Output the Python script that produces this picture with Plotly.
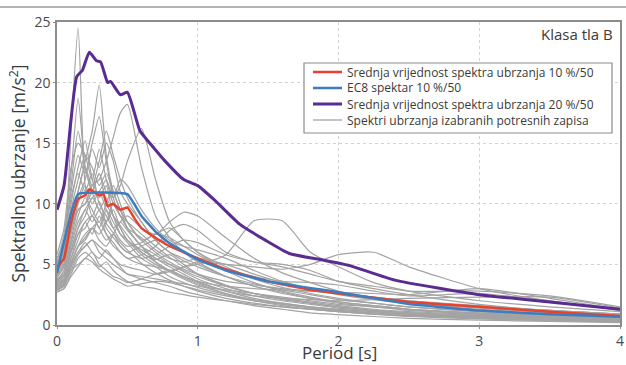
import plotly.graph_objects as go

periods = [0, 0.05, 0.1, 0.15, 0.2, 0.25, 0.3, 0.35, 0.4, 0.45, 0.5, 0.6, 0.7, 0.8, 0.9,
           1.0, 1.2, 1.4, 1.6, 1.8, 2.0, 2.25, 2.5, 3.0, 3.5, 4.0]

records = [
    [4.6, 6.2, 16.0, 24.5, 11.5, 9.0, 10.2, 8.4, 7.6, 6.8, 6.2, 5.1, 4.3, 3.7, 3.2, 2.8, 2.2, 1.8, 1.5, 1.3, 1.1, 0.9, 0.8, 0.6, 0.45, 0.35],
    [5.2, 7.5, 12.5, 18.7, 13.0, 11.0, 12.5, 10.0, 9.0, 8.2, 7.4, 6.0, 5.4, 5.8, 5.0, 4.2, 3.3, 2.6, 2.1, 1.8, 1.5, 1.2, 1.0, 0.8, 0.6, 0.45],
    [4.0, 5.0, 8.0, 11.0, 13.5, 16.0, 19.8, 14.0, 11.0, 9.5, 8.0, 6.5, 5.8, 5.0, 4.4, 3.8, 3.0, 2.4, 2.0, 1.7, 1.4, 1.2, 1.0, 0.75, 0.55, 0.4],
    [3.6, 4.5, 7.0, 9.5, 10.0, 11.5, 12.0, 13.5, 15.5, 17.5, 18.2, 13.0, 9.0, 7.2, 6.0, 5.2, 4.0, 3.2, 2.7, 2.2, 1.9, 1.6, 1.3, 0.95, 0.7, 0.5],
    [3.8, 4.2, 6.5, 8.5, 9.5, 10.5, 11.0, 12.0, 10.5, 11.5, 13.5, 16.2, 12.0, 8.5, 7.0, 6.0, 4.8, 3.8, 3.1, 2.6, 2.2, 1.8, 1.5, 1.1, 0.8, 0.6],
    [5.5, 7.0, 11.0, 14.0, 12.5, 15.0, 17.2, 13.5, 10.5, 9.0, 8.5, 7.5, 6.5, 5.6, 4.8, 4.2, 3.2, 2.6, 2.2, 1.9, 1.6, 1.3, 1.1, 0.85, 0.6, 0.45],
    [4.2, 5.8, 10.0, 13.0, 15.2, 12.0, 10.5, 11.5, 9.0, 8.0, 7.0, 6.2, 5.5, 4.8, 4.2, 3.6, 2.8, 2.2, 1.8, 1.5, 1.3, 1.1, 0.9, 0.7, 0.5, 0.4],
    [3.0, 3.4, 5.0, 6.5, 7.5, 8.0, 7.0, 6.5, 7.5, 8.5, 9.0, 8.0, 7.5, 8.5, 9.3, 9.0, 7.2, 5.5, 4.3, 3.5, 2.8, 2.2, 1.8, 1.3, 0.95, 0.7],
    [2.8, 3.0, 4.2, 5.5, 6.0, 5.5, 4.8, 5.2, 4.5, 4.0, 3.6, 3.2, 3.0, 2.7, 2.5, 2.3, 2.0, 1.7, 1.5, 1.3, 1.1, 0.9, 0.75, 0.55, 0.4, 0.3],
    [3.2, 3.6, 5.5, 7.0, 8.5, 7.5, 9.0, 7.5, 6.5, 6.0, 5.5, 5.8, 6.5, 7.8, 8.3, 7.8, 6.0, 5.2, 5.0, 4.5, 3.6, 3.0, 2.5, 1.7, 1.2, 0.9],
    [4.8, 6.0, 9.5, 12.0, 14.0, 13.0, 11.5, 12.5, 11.0, 9.5, 8.5, 7.0, 6.0, 5.2, 4.6, 4.2, 3.6, 3.3, 3.0, 2.8, 2.6, 2.3, 2.0, 1.5, 1.1, 0.8],
    [3.5, 4.0, 6.0, 8.0, 9.0, 10.5, 9.5, 8.5, 9.5, 8.0, 7.0, 5.8, 5.0, 4.5, 4.8, 5.0, 5.8, 8.6, 8.6, 6.0, 4.8, 3.5, 2.8, 2.0, 1.5, 1.1],
    [3.0, 3.3, 4.8, 6.0, 6.5, 7.0, 6.5, 6.0, 5.5, 5.0, 4.8, 4.5, 4.2, 4.4, 4.8, 5.2, 5.0, 4.8, 4.6, 5.0, 5.8, 6.0, 4.8, 3.0, 2.0, 1.3],
    [2.9, 3.2, 4.5, 5.0, 5.5, 6.0, 5.0, 4.5, 4.0, 3.8, 3.5, 3.8, 4.2, 4.5, 4.0, 3.6, 3.2, 3.0, 2.9, 2.8, 2.7, 2.6, 2.5, 3.0, 2.2, 1.3],
    [3.4, 3.8, 5.2, 6.5, 7.0, 8.0, 8.5, 7.5, 6.8, 6.0, 5.5, 5.0, 4.8, 4.5, 4.0, 3.5, 2.8, 2.4, 2.2, 2.1, 2.0, 2.1, 2.2, 2.3, 2.3, 1.4],
    [5.8, 8.0, 13.0, 15.0, 14.0, 12.0, 14.5, 12.0, 10.0, 9.0, 8.0, 6.5, 5.5, 5.0, 4.5, 4.0, 3.2, 2.6, 2.2, 1.8, 1.5, 1.2, 1.0, 0.75, 0.55, 0.4],
    [4.4, 5.5, 8.5, 10.5, 12.0, 14.5, 13.0, 15.0, 13.5, 11.0, 10.0, 8.5, 7.0, 6.0, 5.5, 5.0, 4.0, 3.2, 2.6, 2.2, 1.8, 1.5, 1.2, 0.9, 0.65, 0.5],
    [3.3, 3.8, 5.5, 7.5, 8.0, 9.0, 8.0, 9.5, 8.5, 7.5, 7.0, 6.0, 5.2, 4.5, 3.9, 3.4, 2.6, 2.0, 1.6, 1.3, 1.1, 0.9, 0.7, 0.5, 0.35, 0.25],
    [3.1, 3.5, 4.8, 6.0, 6.8, 6.0, 5.5, 6.2, 5.5, 4.8, 4.2, 3.8, 3.5, 3.2, 2.8, 2.5, 2.0, 1.6, 1.3, 1.0, 0.85, 0.7, 0.55, 0.4, 0.3, 0.2],
    [3.7, 4.5, 6.8, 9.0, 10.5, 9.5, 8.5, 10.0, 11.5, 10.0, 8.5, 7.0, 7.5, 8.0, 7.0, 6.0, 4.5, 3.5, 2.8, 2.3, 1.9, 1.6, 1.3, 0.95, 0.7, 0.5],
    [4.9, 6.5, 10.5, 12.5, 11.0, 12.5, 10.0, 9.0, 8.0, 8.5, 7.8, 6.5, 5.2, 4.4, 3.8, 3.3, 2.6, 2.1, 1.8, 1.5, 1.3, 1.1, 0.9, 0.65, 0.5, 0.35],
    [3.9, 4.8, 7.5, 10.0, 11.5, 10.0, 11.0, 9.5, 8.0, 7.0, 6.5, 6.8, 7.5, 7.2, 6.5, 5.8, 4.6, 3.8, 3.3, 3.0, 2.6, 2.2, 1.9, 1.5, 1.2, 0.9],
    [2.7, 3.0, 4.0, 4.8, 5.5, 5.2, 4.6, 4.2, 3.8, 3.5, 3.2, 3.4, 3.6, 3.5, 3.2, 2.9, 2.4, 2.0, 1.7, 1.4, 1.2, 1.0, 0.8, 0.6, 0.45, 0.3],
    [4.3, 5.2, 8.0, 9.5, 10.0, 11.0, 12.5, 11.0, 10.5, 12.0, 11.5, 9.5, 8.0, 7.0, 6.5, 6.2, 5.5, 4.5, 3.6, 3.0, 2.5, 2.1, 1.8, 1.4, 1.0, 0.75],
    [3.5, 4.0, 6.0, 7.5, 8.5, 9.0, 8.0, 7.0, 7.5, 6.5, 6.0, 6.5, 7.0, 6.8, 6.0, 5.5, 4.6, 4.0, 3.6, 3.5, 3.3, 2.8, 2.4, 2.6, 2.0, 1.2],
    [5.0, 6.8, 11.5, 16.0, 13.0, 11.0, 9.5, 10.5, 9.0, 7.5, 6.8, 5.5, 4.8, 4.0, 3.5, 3.1, 2.5, 2.0, 1.7, 1.4, 1.2, 1.0, 0.85, 0.6, 0.45, 0.35],
    [3.2, 3.7, 5.0, 6.5, 7.2, 8.0, 7.5, 8.5, 10.0, 9.0, 8.0, 7.2, 6.2, 5.5, 5.2, 5.5, 5.0, 4.2, 3.5, 3.0, 2.6, 2.3, 2.0, 1.6, 1.2, 0.9],
    [4.1, 5.0, 7.8, 11.0, 13.0, 11.5, 13.5, 16.0, 14.0, 12.0, 10.5, 8.5, 7.0, 6.0, 5.3, 4.8, 4.0, 3.4, 2.9, 2.5, 2.1, 1.8, 1.5, 1.1, 0.8, 0.6],
    [3.0, 3.3, 4.5, 5.8, 6.5, 7.0, 6.0, 5.5, 5.0, 4.6, 4.2, 4.0, 3.8, 3.6, 3.4, 3.2, 2.9, 2.6, 2.3, 2.0, 1.7, 1.5, 1.3, 1.0, 0.8, 0.55],
    [3.6, 4.2, 6.2, 8.0, 9.5, 8.5, 9.5, 8.0, 7.2, 6.5, 6.0, 5.5, 5.8, 6.5, 7.0, 6.8, 5.8, 5.2, 4.8, 4.2, 3.6, 3.2, 2.8, 2.8, 2.4, 1.5],
]

mean_periods = [0, 0.05, 0.1, 0.15, 0.2, 0.23, 0.26, 0.3, 0.33, 0.36, 0.4, 0.45, 0.5, 0.55, 0.6,
                0.7, 0.8, 0.9, 1.0, 1.2, 1.5, 1.8, 2.0, 2.5, 3.0, 3.5, 4.0]
mean_10 = [4.7, 5.5, 8.5, 10.4, 10.7, 11.2, 11.0, 10.7, 10.8, 9.8, 10.0, 9.5, 9.7, 8.8, 8.0,
           7.2, 6.5, 6.0, 5.5, 4.6, 3.6, 2.9, 2.6, 1.9, 1.5, 1.1, 0.75]

ec8_periods = [0, 0.15, 0.5, 0.6, 0.7, 0.8, 1.0, 1.2, 1.5, 2.0, 2.5, 3.0, 3.5, 4.0]
ec8_10 = [4.3, 10.8, 10.8, 9.0, 7.7, 6.75, 5.4, 4.5, 3.6, 2.7, 1.73, 1.2, 0.88, 0.68]

mean20_periods = [0, 0.05, 0.1, 0.14, 0.18, 0.23, 0.28, 0.31, 0.36, 0.38, 0.45, 0.5, 0.59, 0.66,
                  0.77, 0.9, 1.0, 1.12, 1.3, 1.48, 1.65, 1.87, 2.08, 2.4, 3.0, 3.5, 4.0]
mean_20 = [9.5, 11.5, 17.0, 20.5, 21.0, 22.5, 21.8, 21.7, 20.0, 20.1, 19.0, 19.2, 16.0, 15.0,
           13.5, 12.0, 11.5, 10.3, 8.3, 7.0, 5.9, 5.4, 4.9, 3.7, 2.5, 1.9, 1.3]

legend_names = [
    "Srednja vrijednost spektra ubrzanja 10 %/50",
    "EC8 spektar 10 %/50",
    "Srednja vrijednost spektra ubrzanja 20 %/50",
    "Spektri ubrzanja izabranih potresnih zapisa",
]
legend_colors = ["#e8412c", "#3b7dc0", "#5a2c92", "#a3a3a3"]
legend_widths = [2.5, 2.5, 3, 1.3]

fig = go.Figure()
for rec in records:
    fig.add_trace(go.Scatter(
        x=periods, y=rec, mode="lines",
        line=dict(color=legend_colors[3], width=1.2, shape="spline", smoothing=0.6),
        name=legend_names[3], showlegend=False, hoverinfo="skip"))

fig.add_trace(go.Scatter(x=mean_periods, y=mean_10, mode="lines", name=legend_names[0],
                         line=dict(color=legend_colors[0], width=2.5, shape="spline", smoothing=0.3),
                         showlegend=False))
fig.add_trace(go.Scatter(x=ec8_periods, y=ec8_10, mode="lines", name=legend_names[1],
                         line=dict(color=legend_colors[1], width=2.5, shape="spline", smoothing=0.3),
                         showlegend=False))
fig.add_trace(go.Scatter(x=mean20_periods, y=mean_20, mode="lines", name=legend_names[2],
                         line=dict(color=legend_colors[2], width=3, shape="spline", smoothing=0.5),
                         showlegend=False))

# plot-area geometry in pixels (for converting the legend box to paper coords)
L, R, T, B = 57, 620, 22, 325
W, H = R - L, B - T


def px(xp):
    return (xp - L) / W


def py(yp):
    return (B - yp) / H


shapes = [
    dict(type="line", xref="paper", yref="paper", x0=px(0), x1=px(626), y0=py(7), y1=py(7),
         line=dict(color="#9a9a9a", width=1.5)),
    dict(type="rect", xref="paper", yref="paper", x0=px(304), x1=px(612), y0=py(133), y1=py(63),
         line=dict(color="#8c8c8c", width=1.2), fillcolor="white", layer="above"),
]
annotations = [
    dict(text="Klasa tla B", xref="paper", yref="paper", x=px(615), y=py(34),
         xanchor="right", yanchor="middle", showarrow=False,
         font=dict(size=15, color="#3a3a3a")),
    dict(text="Period [s]", xref="paper", yref="paper", x=px(340), y=py(365),
         xanchor="center", yanchor="bottom", showarrow=False, borderpad=0,
         font=dict(size=17, color="#3a3a3a")),
]
for i, (name, col, wd) in enumerate(zip(legend_names, legend_colors, legend_widths)):
    rowy = 72 + 16 * i
    shapes.append(dict(type="line", xref="paper", yref="paper", x0=px(313), x1=px(342),
                       y0=py(rowy), y1=py(rowy), line=dict(color=col, width=wd), layer="above"))
    annotations.append(dict(text=name, xref="paper", yref="paper", x=px(346), y=py(rowy),
                            xanchor="left", yanchor="middle", showarrow=False,
                            borderpad=0, height=15,
                            font=dict(size=12, color="#3a3a3a")))

axis_common = dict(showline=True, linecolor="#8c8c8c", linewidth=1.5, mirror=True,
                   showgrid=True, gridcolor="#d2d2d2", griddash="dot", gridwidth=1,
                   zeroline=False, ticks="outside", ticklen=2, tickcolor="#8c8c8c",
                   automargin=False, tickfont=dict(size=14, color="#4a4a4a"))

fig.update_layout(
    width=626, height=365,
    margin=dict(l=L, r=626 - R, t=T, b=365 - B),
    paper_bgcolor="white", plot_bgcolor="white",
    font=dict(family="Open Sans", color="#3a3a3a"),
    xaxis=dict(range=[0, 4], dtick=1, **axis_common),
    yaxis=dict(range=[0, 25], dtick=5, title=dict(text="Spektralno ubrzanje [m/s<sup>2</sup>]",
                                                   font=dict(size=17.5), standoff=4),
               **axis_common),
    showlegend=False,
    annotations=annotations,
    shapes=shapes,
)

fig.write_html("out.html")
